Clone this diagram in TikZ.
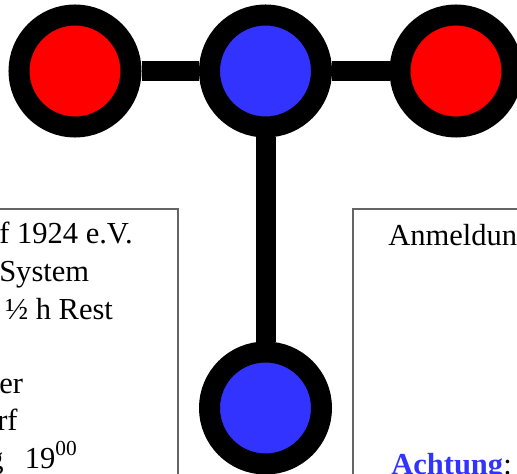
\documentclass[tikz,border=0pt]{standalone}
\usepackage{fontspec}
\setmainfont{Liberation Serif}
\definecolor{atomred}{RGB}{255,0,0}
\definecolor{atomblue}{RGB}{51,51,255}
\definecolor{boxgray}{RGB}{100,100,100}
\tikzset{
  atom/.style={circle,draw=black,line width=15.75pt,minimum size=84pt,inner sep=0pt},
  bond/.style={line width=15pt},
  infobox/.style={draw=boxgray,line width=0.9pt},
  txt/.style={anchor=base west,inner sep=0pt,font=\fontsize{22.9}{27.5}\selectfont}
}
\begin{document}
\begin{tikzpicture}[x=0.75pt,y=0.75pt,yscale=-1,xscale=1]
\useasboundingbox (0,0) rectangle (517,474);
\clip (0,0) rectangle (517,474);

%Shape: Rectangle [left box]
\draw [infobox] (-20,209) rectangle (178,500) ;
%Shape: Rectangle [right box]
\draw [infobox] (353,209) rectangle (540,500) ;

% Text Nodes, left box
\foreach \i/\xx/\yy/\t in {1/-1/243/{f 1924 e.V.},2/-1/281/{System},3/5/319/{½ h Rest},
    5/-1/393/{er},6/-3/430/{rf},7/-12/468/{g\hspace{16pt}19\textsuperscript{00}}}
  \node [txt] (line\i) at (\xx,\yy) {\t};

% Text Nodes, right box
\node [txt] (anmeldung) at (388,245) {Anmeldun};
\node [txt] (achtung) at (391,474) {\textbf{\color{atomblue}Achtung}:};

% Atoms
\node [atom,fill=atomred] (left) at (75,71) {};
\node [atom,fill=atomblue] (center) at (265.5,71) {};
\node [atom,fill=atomred] (right) at (456,71) {};
\node [atom,fill=atomblue] (bottom) at (265.5,408) {};

% Bonds
\draw [bond] (left) -- (center) ;
\draw [bond] (center) -- (right) ;
\draw [bond] (center) -- (bottom) ;

\end{tikzpicture}
\end{document}
